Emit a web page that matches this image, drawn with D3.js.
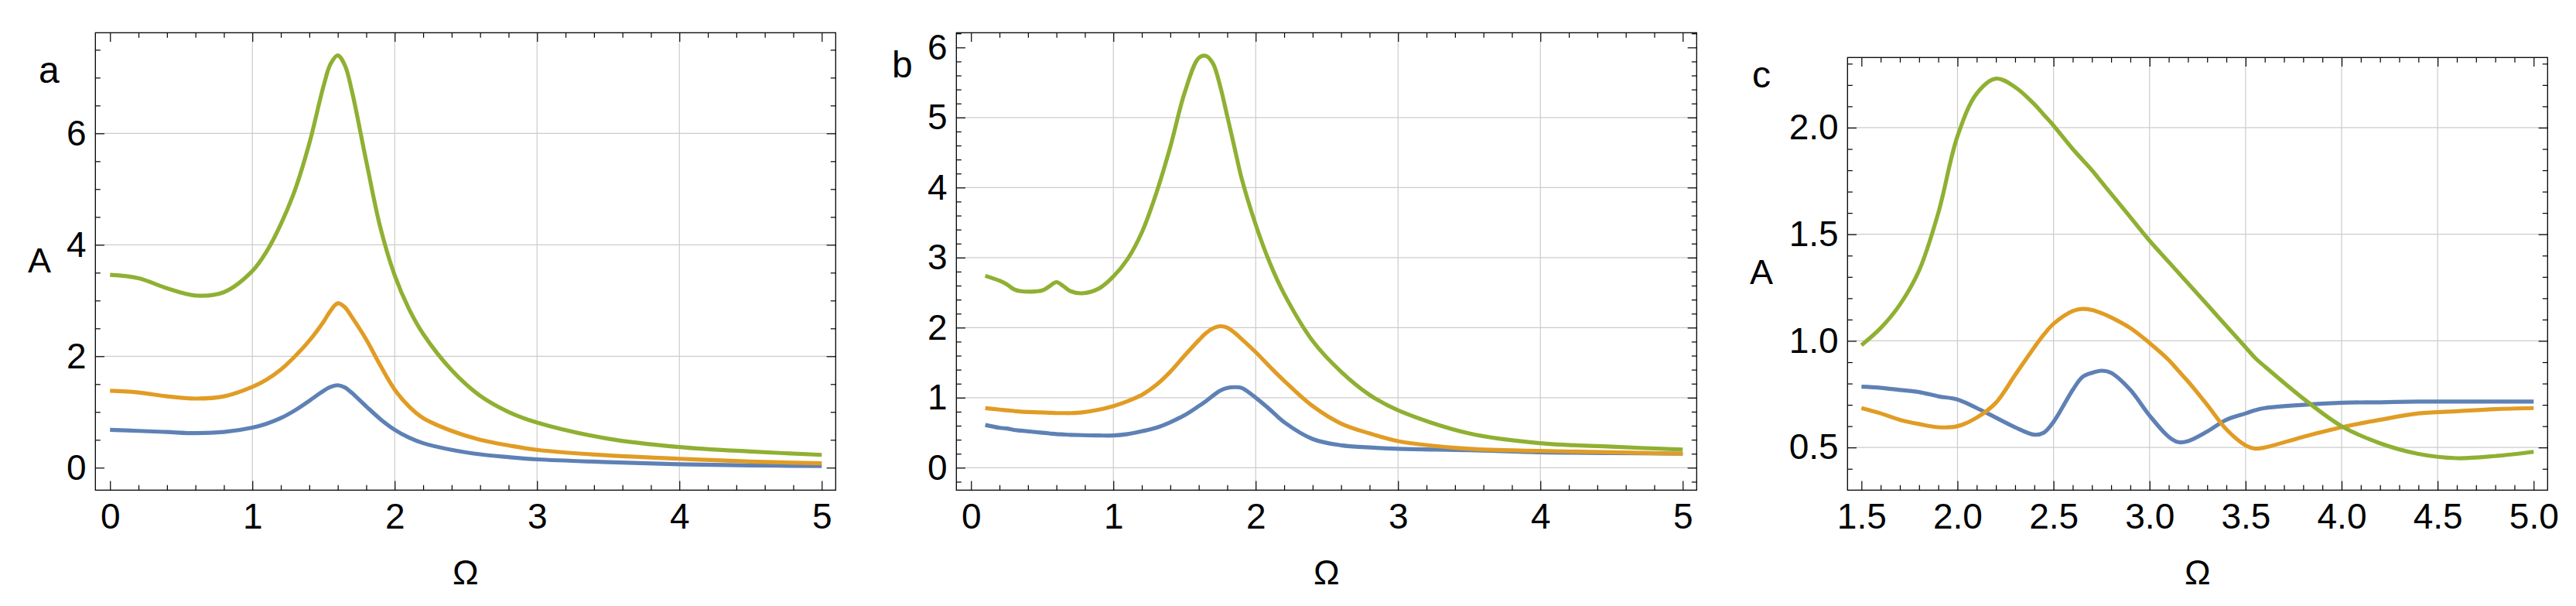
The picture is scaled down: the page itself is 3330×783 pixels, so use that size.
<!DOCTYPE html>
<html>
<head>
<meta charset="utf-8">
<script src="https://cdn.jsdelivr.net/npm/d3@7"></script>
<style>
  html, body { margin: 0; padding: 0; background: #fff; }
  svg { display: block; }
  text { font-family: "Liberation Sans", Arial, sans-serif; fill: #000; }
</style>
</head>
<body>
<svg id="chart" width="3330" height="783"></svg>
<script>
// ---------- DATA ----------
// Panel a
const aX      = [0, 0.2, 0.4, 0.6, 0.8, 1.0, 1.1, 1.2, 1.3, 1.4, 1.5, 1.55, 1.6, 1.65, 1.7, 1.8, 1.9, 2.0, 2.1, 2.2, 2.4, 2.6, 2.8, 3.0, 3.5, 4.0, 4.5, 5.0];
const aGreen  = [3.46, 3.40, 3.22, 3.09, 3.15, 3.53, 3.88, 4.37, 4.99, 5.82, 6.85, 7.25, 7.4, 7.22, 6.75, 5.5, 4.3, 3.45, 2.85, 2.4, 1.75, 1.29, 1.0, 0.81, 0.52, 0.37, 0.29, 0.23];
const aOrange = [1.38, 1.35, 1.28, 1.24, 1.28, 1.45, 1.58, 1.76, 2.0, 2.28, 2.62, 2.82, 2.95, 2.88, 2.7, 2.3, 1.83, 1.4, 1.1, 0.89, 0.66, 0.5, 0.4, 0.32, 0.22, 0.16, 0.11, 0.08];
const aBlue   = [0.68, 0.66, 0.64, 0.62, 0.64, 0.72, 0.79, 0.89, 1.03, 1.2, 1.38, 1.45, 1.48, 1.44, 1.34, 1.1, 0.87, 0.68, 0.54, 0.44, 0.32, 0.24, 0.19, 0.15, 0.1, 0.06, 0.04, 0.03];
const aXTicks = [0, 1, 2, 3, 4, 5];
const aYTicks = [0, 2, 4, 6];

// Panel b
const bX      = [0.1, 0.2, 0.25, 0.3, 0.35, 0.5, 0.55, 0.6, 0.65, 0.7, 0.78, 0.9, 1.0, 1.1, 1.2, 1.3, 1.4, 1.5, 1.6, 1.65, 1.7, 1.75, 1.8, 1.85, 1.9, 2.0, 2.1, 2.2, 2.4, 2.6, 2.8, 3.0, 3.5, 4.0, 4.5, 5.0];
const bGreen  = [2.74, 2.67, 2.62, 2.55, 2.52, 2.53, 2.59, 2.65, 2.59, 2.52, 2.49, 2.56, 2.73, 2.98, 3.36, 3.91, 4.58, 5.35, 5.85, 5.88, 5.77, 5.45, 5.02, 4.58, 4.14, 3.47, 2.92, 2.48, 1.81, 1.37, 1.04, 0.82, 0.49, 0.35, 0.30, 0.26];
const bOrange = [0.85, 0.83, 0.82, 0.81, 0.80, 0.79, 0.785, 0.78, 0.78, 0.78, 0.79, 0.83, 0.88, 0.95, 1.04, 1.18, 1.37, 1.60, 1.82, 1.92, 1.99, 2.02, 2.0, 1.93, 1.84, 1.65, 1.44, 1.24, 0.88, 0.63, 0.49, 0.38, 0.27, 0.24, 0.22, 0.2];
const bBlue   = [0.61, 0.57, 0.56, 0.54, 0.53, 0.50, 0.49, 0.48, 0.475, 0.47, 0.465, 0.46, 0.46, 0.48, 0.52, 0.57, 0.65, 0.75, 0.88, 0.95, 1.03, 1.1, 1.14, 1.15, 1.14, 1.0, 0.83, 0.65, 0.41, 0.32, 0.29, 0.27, 0.25, 0.22, 0.21, 0.2];
const bXTicks = [0, 1, 2, 3, 4, 5];
const bYTicks = [0, 1, 2, 3, 4, 5, 6];

// Panel c
const cX      = [1.5, 1.6, 1.7, 1.8, 1.9, 2.0, 2.1, 2.2, 2.3, 2.4, 2.45, 2.5, 2.6, 2.65, 2.7, 2.75, 2.8, 2.9, 3.0, 3.1, 3.15, 3.2, 3.3, 3.4, 3.5, 3.55, 3.6, 3.8, 4.0, 4.2, 4.4, 4.6, 4.8, 5.0];
const cGreen  = [0.98, 1.06, 1.17, 1.33, 1.60, 1.96, 2.16, 2.23, 2.19, 2.11, 2.06, 2.01, 1.90, 1.85, 1.80, 1.745, 1.69, 1.58, 1.47, 1.37, 1.32, 1.27, 1.17, 1.07, 0.97, 0.92, 0.88, 0.73, 0.60, 0.52, 0.47, 0.45, 0.46, 0.48];
const cOrange = [0.685, 0.66, 0.63, 0.61, 0.595, 0.60, 0.64, 0.71, 0.84, 0.97, 1.03, 1.08, 1.14, 1.15, 1.145, 1.13, 1.11, 1.06, 0.99, 0.91, 0.86, 0.81, 0.70, 0.585, 0.51, 0.495, 0.50, 0.55, 0.595, 0.63, 0.66, 0.67, 0.68, 0.685];
const cBlue   = [0.785, 0.78, 0.77, 0.76, 0.74, 0.725, 0.685, 0.64, 0.595, 0.56, 0.57, 0.62, 0.77, 0.83, 0.85, 0.86, 0.85, 0.77, 0.65, 0.55, 0.525, 0.53, 0.575, 0.63, 0.66, 0.675, 0.685, 0.70, 0.71, 0.712, 0.715, 0.715, 0.715, 0.715];
const cXTicks = [1.5, 2.0, 2.5, 3.0, 3.5, 4.0, 4.5, 5.0];
const cYTicks = [0.5, 1.0, 1.5, 2.0];

// ---------- LAYOUT / STYLE ----------
const COLORS = { blue: "#5E81B5", orange: "#E19C24", green: "#8FB032" };
const FONT_TICK = 46, FONT_LABEL = 45, FONT_LETTER = 48;
const MAJOR = 11.7, MINOR = 6.5;

const panels = [
  {
    letter: "a", letterPos: [50, 107], yLabel: true, yLabelPos: [51, 352],
    frame: { left: 123.3, right: 1080.3, top: 42.3, bottom: 633.3 },
    xDom: [-0.103, 5.098], yDom: [-0.403, 7.806],
    x: aX, series: [aBlue, aOrange, aGreen],
    xTicks: aXTicks, yTicks: aYTicks, xMinorStep: 0.2, yMinorStep: 0.5,
    xGrid: [1, 2, 3, 4], yGrid: [2, 4, 6], fmt: d3.format("d")
  },
  {
    letter: "b", letterPos: [1153, 100], yLabel: false,
    frame: { left: 1236.3, right: 2193.3, top: 42.3, bottom: 633.3 },
    xDom: [-0.103, 5.098], yDom: [-0.32, 6.21],
    x: bX, series: [bBlue, bOrange, bGreen],
    xTicks: bXTicks, yTicks: bYTicks, xMinorStep: 0.2, yMinorStep: 0.2,
    xGrid: [1, 2, 3, 4], yGrid: [0, 1, 2, 3, 4, 5], fmt: d3.format("d")
  },
  {
    letter: "c", letterPos: [2265, 113], yLabel: true, yLabelPos: [2277, 367],
    frame: { left: 2388.3, right: 3293.3, top: 74.3, bottom: 633.3 },
    xDom: [1.4274, 5.0726], yDom: [0.30, 2.329],
    x: cX, series: [cBlue, cOrange, cGreen],
    xTicks: cXTicks, yTicks: cYTicks, xMinorStep: 0.1, yMinorStep: 0.1,
    xGrid: [2.0, 2.5, 3.0, 3.5, 4.0, 4.5], yGrid: [0.5, 1.0, 1.5, 2.0], fmt: d3.format(".1f")
  }
];
const seriesColors = [COLORS.blue, COLORS.orange, COLORS.green];

const svg = d3.select("#chart");

function minorValues(dom, step, majors) {
  const vals = [];
  const start = Math.ceil((dom[0] + 1e-9) / step);
  const end = Math.floor((dom[1] - 1e-9) / step);
  for (let i = start; i <= end; i++) {
    const v = +(i * step).toFixed(6);
    if (!majors.some(m => Math.abs(m - v) < 1e-6)) vals.push(v);
  }
  return vals;
}

panels.forEach(p => {
  const f = p.frame;
  const x = d3.scaleLinear().domain(p.xDom).range([f.left, f.right]);
  const y = d3.scaleLinear().domain(p.yDom).range([f.bottom, f.top]);
  const g = svg.append("g");

  // grid
  g.append("g").selectAll("line").data(p.xGrid).join("line")
    .attr("x1", d => x(d)).attr("x2", d => x(d))
    .attr("y1", f.top).attr("y2", f.bottom)
    .attr("stroke", "#cccccc").attr("stroke-width", 1.2);
  g.append("g").selectAll("line").data(p.yGrid).join("line")
    .attr("y1", d => y(d)).attr("y2", d => y(d))
    .attr("x1", f.left).attr("x2", f.right)
    .attr("stroke", "#cccccc").attr("stroke-width", 1.2);

  // curves
  const line = d3.line().x((d, i) => x(p.x[i])).y(d => y(d)).curve(d3.curveCatmullRom.alpha(0.5));
  p.series.forEach((s, k) => {
    g.append("path").datum(s)
      .attr("d", line)
      .attr("fill", "none")
      .attr("stroke", seriesColors[k])
      .attr("stroke-width", 5.2)
      .attr("stroke-linejoin", "round")
      .attr("stroke-linecap", "butt");
  });

  // frame
  g.append("rect")
    .attr("x", f.left).attr("y", f.top)
    .attr("width", f.right - f.left).attr("height", f.bottom - f.top)
    .attr("fill", "none").attr("stroke", "#000").attr("stroke-width", 1.3);

  const xMinor = minorValues(p.xDom, p.xMinorStep, p.xTicks);
  const yMinor = minorValues(p.yDom, p.yMinorStep, p.yTicks);

  function styleAxis(sel) {
    sel.select(".domain").remove();
    sel.selectAll(".tick line").attr("stroke", "#000").attr("stroke-width", 1.2);
    sel.selectAll("text").style("font-size", FONT_TICK + "px")
      .style("font-family", '"Liberation Sans", Arial, sans-serif').attr("fill", "#000");
  }

  // bottom axis (major with labels)
  const bx = g.append("g").attr("transform", `translate(0,${f.bottom})`)
    .call(d3.axisBottom(x).tickValues(p.xTicks).tickSize(-MAJOR).tickFormat(p.fmt));
  styleAxis(bx);
  bx.selectAll("text").attr("y", 50).attr("dy", 0);
  const bxm = g.append("g").attr("transform", `translate(0,${f.bottom})`)
    .call(d3.axisBottom(x).tickValues(xMinor).tickSize(-MINOR).tickFormat(""));
  styleAxis(bxm);

  // top axis
  const tx = g.append("g").attr("transform", `translate(0,${f.top})`)
    .call(d3.axisTop(x).tickValues(p.xTicks).tickSize(-MAJOR).tickFormat(""));
  styleAxis(tx);
  const txm = g.append("g").attr("transform", `translate(0,${f.top})`)
    .call(d3.axisTop(x).tickValues(xMinor).tickSize(-MINOR).tickFormat(""));
  styleAxis(txm);

  // left axis
  const ly = g.append("g").attr("transform", `translate(${f.left},0)`)
    .call(d3.axisLeft(y).tickValues(p.yTicks).tickSize(-MAJOR).tickFormat(p.fmt));
  styleAxis(ly);
  ly.selectAll("text").attr("x", -11.6).attr("dy", "0.32em");
  const lym = g.append("g").attr("transform", `translate(${f.left},0)`)
    .call(d3.axisLeft(y).tickValues(yMinor).tickSize(-MINOR).tickFormat(""));
  styleAxis(lym);

  // right axis
  const ry = g.append("g").attr("transform", `translate(${f.right},0)`)
    .call(d3.axisRight(y).tickValues(p.yTicks).tickSize(-MAJOR).tickFormat(""));
  styleAxis(ry);
  const rym = g.append("g").attr("transform", `translate(${f.right},0)`)
    .call(d3.axisRight(y).tickValues(yMinor).tickSize(-MINOR).tickFormat(""));
  styleAxis(rym);

  // x label
  g.append("text")
    .attr("x", (f.left + f.right) / 2).attr("y", 755)
    .attr("text-anchor", "middle")
    .style("font-size", FONT_LABEL + "px")
    .text("Ω");

  // y label
  if (p.yLabel) {
    g.append("text")
      .attr("x", p.yLabelPos[0]).attr("y", p.yLabelPos[1])
      .attr("text-anchor", "middle")
      .style("font-size", FONT_LABEL + "px")
      .text("A");
  }

  // panel letter
  g.append("text")
    .attr("x", p.letterPos[0]).attr("y", p.letterPos[1])
    .style("font-size", FONT_LETTER + "px")
    .text(p.letter);
});
</script>
</body>
</html>
